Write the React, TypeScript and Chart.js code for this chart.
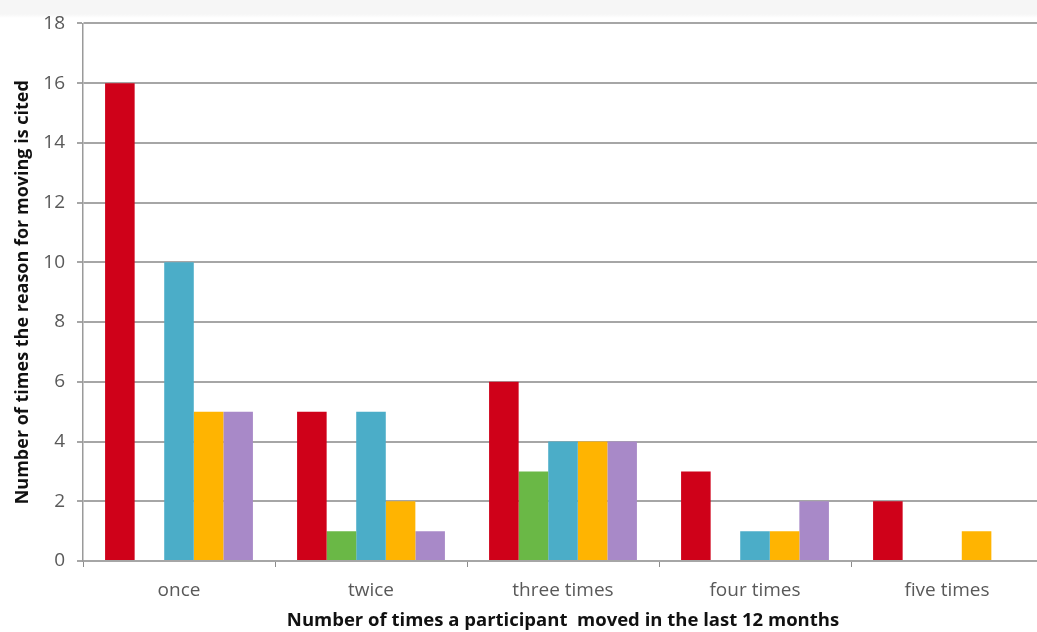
import React, { useEffect, useRef } from "react";
import { Chart, registerables } from "chart.js";

Chart.register(...registerables);

const categories = ["once", "twice", "three times", "four times", "five times"];
const redValues = [16, 5, 6, 3, 2];
const greenValues = [0, 1, 3, 0, 0];
const cyanValues = [10, 5, 4, 1, 0];
const orangeValues = [5, 2, 4, 1, 1];
const purpleValues = [5, 1, 4, 2, 0];
const yTicks = [0, 2, 4, 6, 8, 10, 12, 14, 16, 18];

const xTitle = "Number of times a participant  moved in the last 12 months";
const yTitle = "Number of times the reason for moving is cited";

export default function App() {
  const ref = useRef<HTMLCanvasElement | null>(null);
  useEffect(() => {
    document.body.style.margin = "0";
    const canvas = ref.current;
    if (!canvas) return;
    const font = "'Open Sans', Lato, sans-serif";
    const chart = new Chart(canvas, {
      type: "bar",
      data: {
        labels: categories,
        datasets: [
          { label: "A", data: redValues, backgroundColor: "#CF0119" },
          { label: "B", data: greenValues, backgroundColor: "#6AB846" },
          { label: "C", data: cyanValues, backgroundColor: "#4BADC8" },
          { label: "D", data: orangeValues, backgroundColor: "#FFB401" },
          { label: "E", data: purpleValues, backgroundColor: "#A889C8" },
        ],
      },
      options: {
        animation: false,
        responsive: false,
        maintainAspectRatio: false,
        layout: { padding: { left: 12, top: 22, right: 0, bottom: 0 } },
        plugins: { legend: { display: false }, tooltip: { enabled: false } },
        datasets: { bar: { categoryPercentage: 0.77, barPercentage: 1 } },
        scales: {
          x: {
            offset: true,
            grid: {
              display: true,
              drawOnChartArea: false,
              drawTicks: true,
              tickLength: 6,
              color: "#8c8c8c",
              offset: true,
            },
            border: { display: true, color: "#a6a6a6", width: 2 },
            ticks: { color: "#595959", font: { family: font, size: 19 }, padding: 12 },
            title: {
              display: true,
              text: xTitle,
              color: "#111111",
              font: { family: font, size: 18.5, weight: "bold" },
              padding: { top: 2, bottom: 0 },
            },
            afterFit: (s: any) => {
              s.height = 71;
            },
          },
          y: {
            min: 0,
            max: 18,
            afterBuildTicks: (s: any) => {
              s.ticks = yTicks.map((v) => ({ value: v }));
            },
            grid: {
              color: "#a6a6a6",
              lineWidth: 2,
              drawTicks: true,
              tickLength: 6,
            },
            border: { display: true, color: "#9a9a9a", width: 1.5 },
            ticks: { color: "#595959", font: { family: font, size: 19 }, padding: 12 },
            title: {
              display: true,
              text: yTitle,
              color: "#111111",
              font: { family: font, size: 18, weight: "bold" },
              padding: { top: 0, bottom: 0 },
            },
            afterFit: (s: any) => {
              s.width = 83 - 12;
            },
          },
        },
      },
    });
    return () => chart.destroy();
  }, []);
  return (
    <div
      style={{
        width: 1037,
        height: 632,
        overflow: "hidden",
        background: "linear-gradient(#f6f6f6 0px, #f6f6f6 14px, #ffffff 18px, #ffffff 100%)",
      }}
    >
      <canvas ref={ref} width={1043} height={632} style={{ display: "block", width: 1043, height: 632 }} />
    </div>
  );
}
